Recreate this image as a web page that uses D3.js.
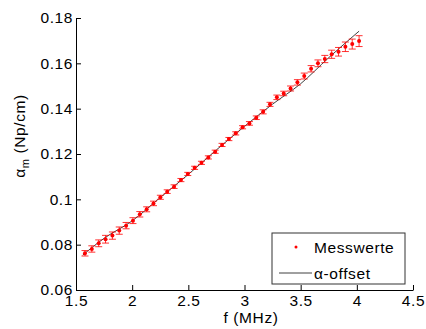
<!DOCTYPE html>
<html>
<head>
<meta charset="utf-8">
<script src="https://cdn.jsdelivr.net/npm/d3@7"></script>
<style>
  body { margin: 0; background: #fff; }
  svg { display: block; font-family: "Liberation Sans", Arial, sans-serif; }
  text { letter-spacing: 0.6px; }
</style>
</head>
<body>
<svg id="chart" width="426" height="329"></svg>
<script>
// measured points (f in MHz, alpha_m in Np/cm)
const freq = d3.range(41).map(i => +(1.58 + 0.061 * i).toFixed(3));
const alpha = [
  0.0762, 0.0781, 0.0806, 0.0824, 0.0840, 0.0862, 0.0884, 0.0906, 0.0934, 0.0956,
  0.0982, 0.1009, 0.1034, 0.1056, 0.1085, 0.1112, 0.1139, 0.1161, 0.1185, 0.1210,
  0.1240, 0.1266, 0.1291, 0.1318, 0.1335, 0.1360, 0.1386, 0.1419, 0.1450, 0.1467,
  0.1489, 0.1516, 0.1544, 0.1576, 0.1600, 0.1619, 0.1640, 0.1651, 0.1673, 0.1685,
  0.1698
];
const alphaErr = [
  0.0012, 0.0014, 0.0015, 0.0017, 0.0016, 0.0016, 0.0014, 0.0013, 0.0012, 0.0011,
  0.0010, 0.0009, 0.0008, 0.0008, 0.0007, 0.0007, 0.0007, 0.0007, 0.0007, 0.0007,
  0.0007, 0.0007, 0.0007, 0.0007, 0.0008, 0.0008, 0.0009, 0.0009, 0.0010, 0.0010,
  0.0011, 0.0012, 0.0013, 0.0014, 0.0015, 0.0016, 0.0018, 0.0019, 0.0021, 0.0022,
  0.0024
];
// alpha-offset curve
const fitF = [1.56, 1.75, 2.0, 2.25, 2.5, 2.75, 3.0, 3.25, 3.5, 3.75, 4.02];
const fitV = [0.0754, 0.0828, 0.0905, 0.1008, 0.1110, 0.1218, 0.1322, 0.1420, 0.1510, 0.1625, 0.1742];

const xTicks = [1.5, 2, 2.5, 3, 3.5, 4, 4.5];
const yTicks = [0.06, 0.08, 0.1, 0.12, 0.14, 0.16, 0.18];

const margin = {top: 18, right: 13, bottom: 39, left: 76};
const width = 426 - margin.left - margin.right,
  height = 329 - margin.top - margin.bottom;

const x = d3.scaleLinear().domain([1.5, 4.5]).range([0, width]);
const y = d3.scaleLinear().domain([0.06, 0.18]).range([height, 0]);

const svg = d3.select('#chart')
  .append('g')
  .attr('transform', 'translate(' + margin.left + ',' + margin.top + ')');

// axes, ticks pointing inwards like matlab
const xAxis = d3.axisBottom(x).tickValues(xTicks).tickFormat(d3.format('')).tickSizeInner(-5).tickSizeOuter(0).tickPadding(5);
const yAxis = d3.axisLeft(y).tickValues(yTicks).tickFormat(d => d === 0.1 ? '0.1' : d3.format('.2f')(d)).tickSizeInner(-5).tickSizeOuter(0).tickPadding(3);

const gx = svg.append('g').attr('transform', 'translate(0,' + height + ')').call(xAxis);
const gy = svg.append('g').call(yAxis);
[gx, gy].forEach(g => {
  g.select('.domain').attr('stroke', '#000');
  g.selectAll('.tick line').attr('stroke', '#000');
  g.selectAll('.tick text').attr('fill', '#000').style('font-size', '15.5px');
});
gx.selectAll('.tick text').attr('dy', '0.71em');

// fit line
const line = d3.line().x((d, i) => x(fitF[i])).y(d => y(d)).curve(d3.curveMonotoneX);
svg.append('path')
  .datum(fitV)
  .attr('d', line)
  .attr('fill', 'none')
  .attr('stroke', '#404040')
  .attr('stroke-width', 1);

// error bars
const eb = svg.append('g').attr('stroke', '#f00').attr('stroke-width', 1).attr('stroke-opacity', 0.8);
freq.forEach((f, i) => {
  const cx = x(f), lo = y(alpha[i] - alphaErr[i]), hi = y(alpha[i] + alphaErr[i]);
  eb.append('line').attr('x1', cx).attr('x2', cx).attr('y1', lo).attr('y2', hi);
  eb.append('line').attr('x1', cx - 3.5).attr('x2', cx + 3.5).attr('y1', lo).attr('y2', lo);
  eb.append('line').attr('x1', cx - 3.5).attr('x2', cx + 3.5).attr('y1', hi).attr('y2', hi);
});

svg.append('g').selectAll('circle')
  .data(alpha)
  .enter().append('circle')
  .attr('cx', (d, i) => x(freq[i]))
  .attr('cy', d => y(d))
  .attr('r', 2)
  .attr('fill', '#f00');

// axis labels
svg.append('text')
  .attr('x', 175).attr('y', height + 33)
  .attr('text-anchor', 'middle')
  .style('font-size', '15.5px')
  .text('f (MHz)');

const yl = svg.append('text')
  .attr('transform', 'translate(' + (-51) + ',' + (height / 2 - 18) + ') rotate(-90)')
  .attr('text-anchor', 'middle')
  .style('font-size', '15.5px');
yl.append('tspan').text('α');
yl.append('tspan').attr('dy', 4).style('font-size', '11px').text('m');
yl.append('tspan').attr('dy', -4).text(' (Np/cm)');

// legend
const lg = svg.append('g').attr('transform', 'translate(' + (272 - margin.left) + ',' + (233 - margin.top) + ')');
lg.append('rect').attr('width', 133).attr('height', 51).attr('fill', '#fff').attr('stroke', '#333');
lg.append('circle').attr('cx', 24).attr('cy', 14).attr('r', 1.5).attr('fill', '#f00');
lg.append('text').attr('x', 42).attr('y', 19.5).style('font-size', '15.5px').text('Messwerte');
lg.append('line').attr('x1', 7).attr('x2', 40).attr('y1', 40).attr('y2', 40).attr('stroke', '#404040');
lg.append('text').attr('x', 42).attr('y', 45.5).style('font-size', '15.5px').text('α-offset');
</script>
</body>
</html>
